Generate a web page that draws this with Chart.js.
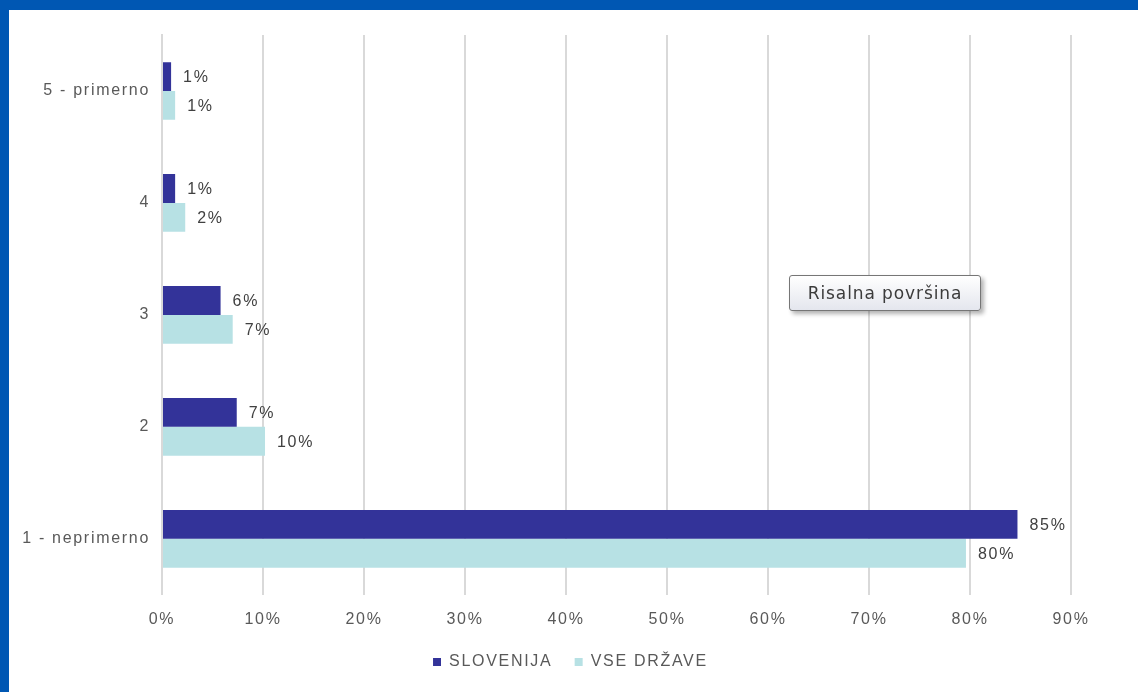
<!DOCTYPE html>
<html>
<head>
<meta charset="utf-8">
<script src="https://cdn.jsdelivr.net/npm/chart.js@4"></script>
<style>
  html, body { margin: 0; padding: 0; background: #0057b3; }
  #frame { position: absolute; left: 9px; top: 10px; width: 1129px; height: 682px; background: #fff; }
  #tip {
    position: absolute; left: 780px; top: 265px; width: 192px; height: 36px;
    border: 1px solid #767676; border-radius: 3px;
    background: linear-gradient(#ffffff, #e4e6ee);
    box-shadow: 3px 3px 4px rgba(0,0,0,0.3);
    font-family: "DejaVu Sans", sans-serif; font-size: 17px; letter-spacing: 0.9px; color: #3b3b3b;
    line-height: 34px; text-align: center; box-sizing: border-box;
  }
</style>
</head>
<body>
<div id="frame">
  <canvas id="chart" width="1129" height="682"></canvas>
  <div id="tip">Risalna površina</div>
</div>
<script>
const categories = ['5 - primerno', '4', '3', '2', '1 - neprimerno']
const slovenija = [0.9, 1.3, 5.8, 7.4, 84.7]
const vseDrzave = [1.3, 2.3, 7.0, 10.2, 79.6]
const tickLabels = ['0%', '10%', '20%', '30%', '40%', '50%', '60%', '70%', '80%', '90%']

const font = 'Liberation Sans, Arial, sans-serif'

// the old excel text is spaced out a bit; canvas state gets reset on resize so set it again each pass
const spacing = {
  id: 'spacing',
  beforeUpdate(chart) { chart.ctx.letterSpacing = '1.7px' },
  beforeDraw(chart) { chart.ctx.letterSpacing = '1.7px' }
}

// draws the value labels next to each bar
const barLabels = {
  id: 'barLabels',
  afterDatasetsDraw(chart) {
    const ctx = chart.ctx
    ctx.save()
    ctx.font = '16px ' + font
    ctx.fillStyle = '#404040'
    ctx.textBaseline = 'middle'
    ctx.textAlign = 'left'
    chart.data.datasets.forEach((ds, i) => {
      chart.getDatasetMeta(i).data.forEach((bar, j) => {
        ctx.fillText(Math.round(ds.data[j]) + '%', bar.x + 12, bar.y + 1)
      })
    })
    ctx.restore()
  }
}

new Chart(document.getElementById('chart'), {
  type: 'bar',
  data: {
    labels: categories,
    datasets: [
      // legend padding is small (it also adds height), so part of the gap between items comes from trailing spaces
      { label: 'SLOVENIJA  ', data: slovenija, backgroundColor: '#333399', borderWidth: 0 },
      { label: 'VSE DRŽAVE ', data: vseDrzave, backgroundColor: '#b7e1e4', borderWidth: 0 }
    ]
  },
  options: {
    responsive: false,
    animation: false,
    indexAxis: 'y',
    categoryPercentage: 0.515,
    barPercentage: 1.0,
    layout: { padding: { top: 25, right: 0, left: 0, bottom: 12 } },
    scales: {
      x: {
        min: 0,
        max: 90,
        ticks: {
          stepSize: 10,
          padding: 15,
          color: '#595959',
          font: { family: font, size: 16 },
          callback: (v, i) => tickLabels[i]
        },
        grid: { color: '#d9d9d9', lineWidth: 2, drawTicks: false },
        border: { display: false }
      },
      y: {
        afterFit: scale => { scale.width = 153 },
        ticks: {
          padding: 4,
          color: '#595959',
          font: { family: font, size: 16 }
        },
        grid: { display: false },
        border: { color: '#d9d9d9', width: 2 }
      },
      // empty right axis, only keeps the white space right of the plot
      yRight: {
        type: 'category',
        position: 'right',
        labels: categories,
        afterFit: scale => { scale.width = 67 },
        ticks: { display: false },
        grid: { display: false },
        border: { display: false }
      }
    },
    plugins: {
      legend: {
        position: 'bottom',
        labels: {
          boxWidth: 8,
          boxHeight: 8,
          padding: 10,
          color: '#595959',
          font: { family: font, size: 16 }
        }
      },
      tooltip: { enabled: false }
    }
  },
  plugins: [spacing, barLabels]
})
</script>
</body>
</html>
